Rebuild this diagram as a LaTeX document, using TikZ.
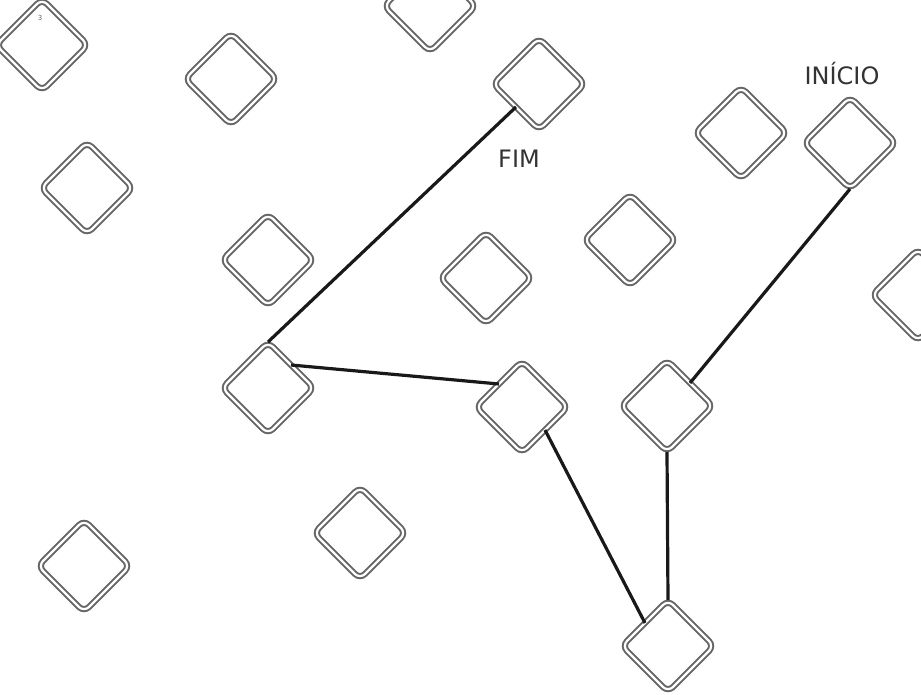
\documentclass[tikz,border=0pt]{standalone}
\usepackage{fontspec}
\setmainfont{DejaVu Sans}
\usetikzlibrary{shapes.geometric}

\begin{document}
\begin{tikzpicture}[x=1pt, y=-1pt,
    ponto/.style={diamond, draw=black!60, double=white, double distance=2.2pt, line width=2pt,
                  rounded corners=7pt, minimum width=92pt, minimum height=92pt, inner sep=0pt, outer sep=0pt},
    rotulo/.style={font=\fontsize{24}{27}\selectfont, text=black!80},
    caminho/.style={line width=3.2pt, black!90}]
                \useasboundingbox (0,0) rectangle (921,695);
                \clip (0,0) rectangle (921,695);
                
                % Pontos (17 losangos)
                \foreach \x/\y [count=\i] in {42/45, 231/79, 430/6, 539/84, 741/133, 850/143,
                                              87/188, 268/260, 486/278, 630/240, 918/295,
                                              268/388, 522/407, 667/406, 360/533, 84/566, 668/646} {
                    \node[ponto] (P\i) at (\x,\y) {};
                }
                
                % Numero no canto
                \node[font=\fontsize{7}{8}\selectfont, text=black!60] (num) at (40,18) {3};
                
                % Inicio e fim
                \node[rotulo] (inicio) at (842,74) {INÍCIO};
                \node[rotulo] (fim) at (519,159) {FIM};
                
                % Caminho do inicio ao fim
                \draw[caminho] (P6.south) -- (P14.north east);
                \draw[caminho] (P14.south) -- (P17.north);
                \draw[caminho] (P17.north west) -- (P13.south east);
                \draw[caminho] (P13.north west) -- (P12.north east);
                \draw[caminho] (P12.north) -- (P4.south west);
            \end{tikzpicture}
\end{document}
